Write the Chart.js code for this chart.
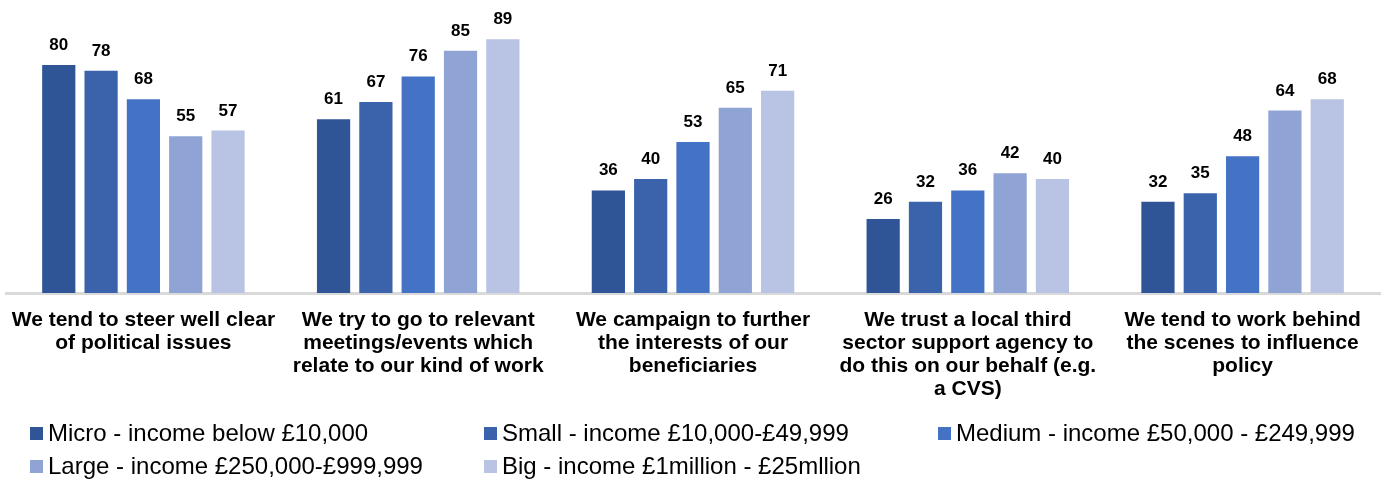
<!DOCTYPE html>
<html>
<head>
<meta charset="utf-8">
<script src="https://cdn.jsdelivr.net/npm/chart.js@4/dist/chart.umd.min.js"></script>
<style>
  html, body { margin: 0; padding: 0; background: #ffffff; }
  #wrap { position: relative; width: 1384px; height: 482px; overflow: hidden; }
  #chart { position: absolute; left: 0; top: 0; }
  .legend-item { position: absolute; display: flex; align-items: center; white-space: nowrap;
    font-family: "Liberation Sans", Arial, sans-serif; font-size: 24px; color: #000; }
  .legend-box { width: 13px; height: 13px; margin-right: 5px; flex: none; }
</style>
</head>
<body>
<div id="wrap">
  <canvas id="chart" width="1384" height="482"></canvas>
  <div id="legend"></div>
</div>
<script>
// Statements about influencing policy, by organisation size (%)
const categories = [
  ["We tend to steer well clear", "of political issues"],
  ["We try to go to relevant", "meetings/events which", "relate to our kind of work"],
  ["We campaign to further", "the interests of our", "beneficiaries"],
  ["We trust a local third", "sector support agency to", "do this on our behalf (e.g.", "a CVS)"],
  ["We tend to work behind", "the scenes to influence", "policy"]
];

const seriesNames = [
  "Micro - income below £10,000",
  "Small - income £10,000-£49,999",
  "Medium - income £50,000 - £249,999",
  "Large - income £250,000-£999,999",
  "Big - income £1million - £25mllion"
];

const micro  = [80, 61, 36, 26, 32];
const small  = [78, 67, 40, 32, 35];
const medium = [68, 76, 53, 36, 48];
const large  = [55, 85, 65, 42, 64];
const big    = [57, 89, 71, 40, 68];

const seriesColors = ["#2F5597", "#3A63AC", "#4472C4", "#8FA4D4", "#B9C3E3"];
const seriesValues = [micro, small, medium, large, big];

const FONT = "'Liberation Sans', Arial, sans-serif";

// Value labels above each bar
const valueLabels = {
  id: "valueLabels",
  afterDatasetsDraw(chart) {
    const ctx = chart.ctx;
    ctx.save();
    ctx.font = "bold 17px " + FONT;
    ctx.fillStyle = "#000";
    ctx.textAlign = "center";
    ctx.textBaseline = "alphabetic";
    chart.data.datasets.forEach((ds, i) => {
      const meta = chart.getDatasetMeta(i);
      meta.data.forEach((bar, j) => {
        ctx.fillText(String(ds.data[j]), bar.x, bar.y - 15);
      });
    });
    ctx.restore();
  }
};

const chart = new Chart(document.getElementById("chart"), {
  type: "bar",
  data: {
    labels: categories,
    datasets: seriesValues.map((vals, i) => ({
      label: seriesNames[i],
      data: vals,
      backgroundColor: seriesColors[i],
      borderWidth: 0,
      categoryPercentage: 0.77,
      barPercentage: 0.785
    }))
  },
  options: {
    responsive: false,
    animation: false,
    events: [],
    layout: { padding: { top: 8, left: 6, right: 4, bottom: 0 } },
    plugins: { legend: { display: false }, tooltip: { enabled: false } },
    scales: {
      x: {
        grid: { display: false, drawTicks: false },
        border: { display: true, color: "#d9d9d9", width: 3 },
        ticks: {
          autoSkip: false,
          maxRotation: 0,
          padding: 16,
          color: "#000",
          font: { family: FONT, size: 21, weight: "bold", lineHeight: 23 / 21 }
        },
        afterFit(scale) {
          scale.height = 482 - 293;
          // labels fit inside their categories; no extra side margin needed
          scale.paddingLeft = 0;
          scale.paddingRight = 0;
        }
      },
      y: {
        display: false,
        min: 0,
        max: 100
      }
    }
  },
  plugins: [valueLabels]
});

// Legend laid out in three columns, two rows
const legend = document.getElementById("legend");
const colLeft = [30, 484, 938];
const rowTop = [423, 456];
seriesNames.forEach((name, i) => {
  const item = document.createElement("div");
  item.className = "legend-item";
  item.style.left = colLeft[i % 3] + "px";
  item.style.top = rowTop[Math.floor(i / 3)] + "px";
  item.style.height = "20px";
  const box = document.createElement("span");
  box.className = "legend-box";
  box.style.background = seriesColors[i];
  const txt = document.createElement("span");
  txt.textContent = name;
  item.appendChild(box);
  item.appendChild(txt);
  legend.appendChild(item);
});
</script>
</body>
</html>
